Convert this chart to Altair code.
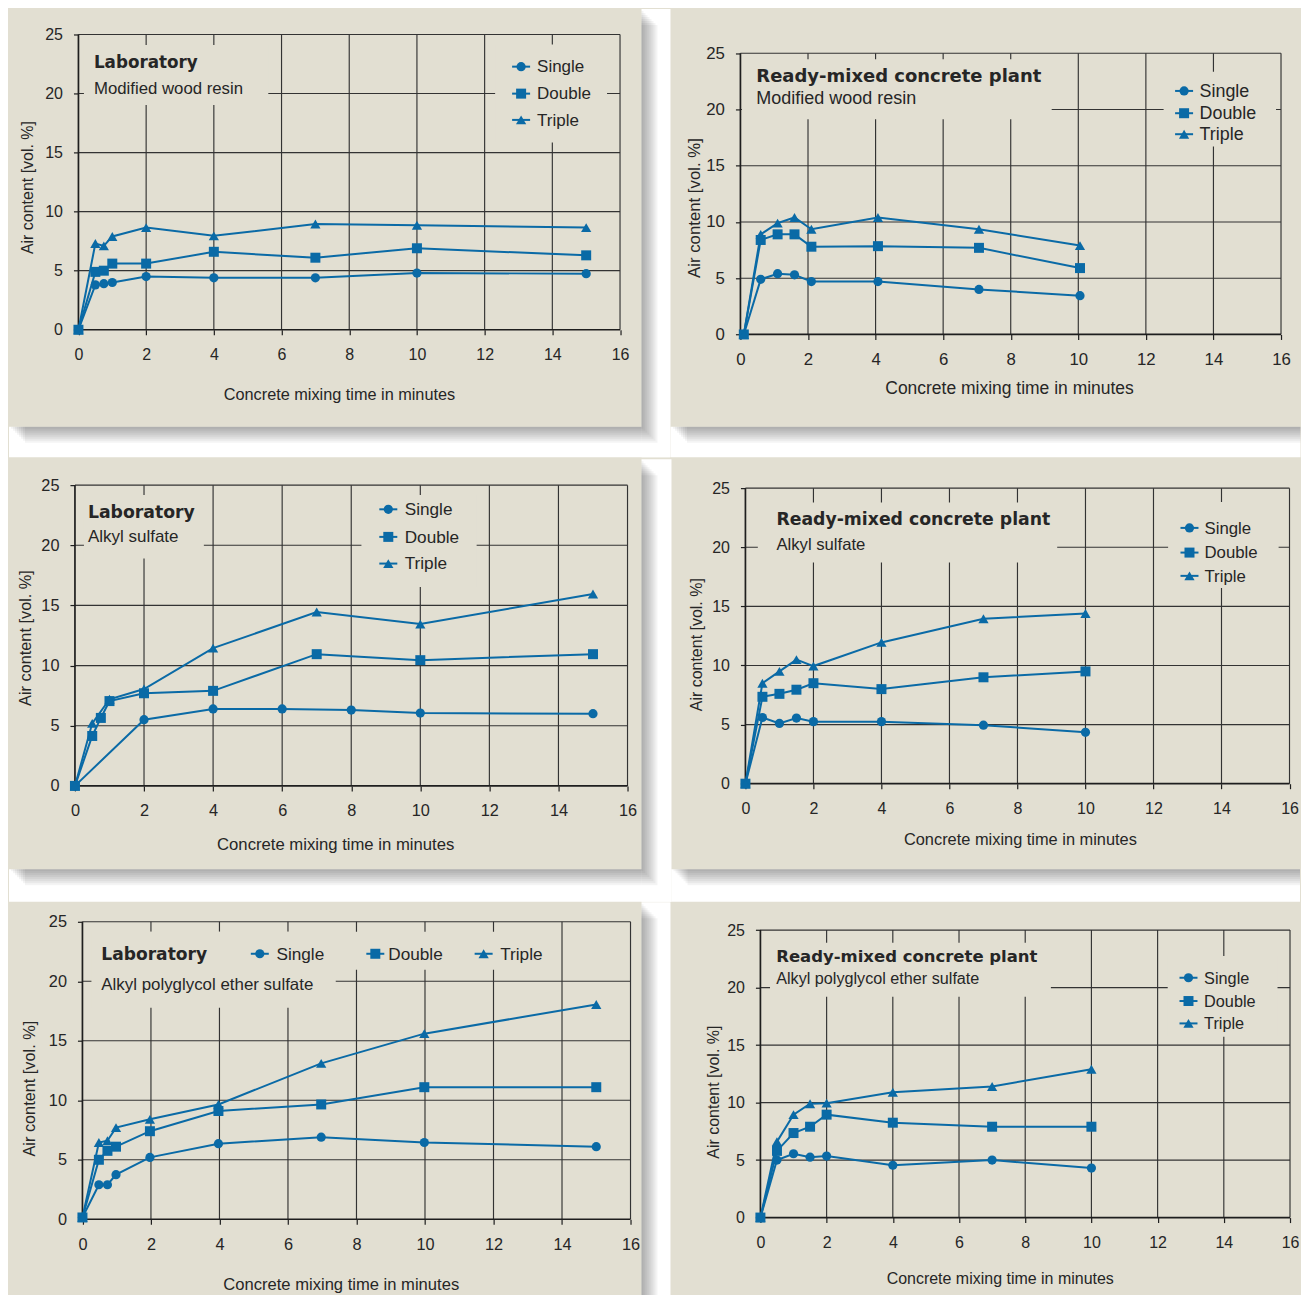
import altair as alt
import pandas as pd

# ---------------- data ----------------
SERIES = ["Single", "Double", "Triple"]
SHAPES = ["circle", "square", "triangle-up"]
SIZES = [85, 100, 105]

X_TICKS = [0, 2, 4, 6, 8, 10, 12, 14, 16]
Y_TICKS = [0, 5, 10, 15, 20, 25]
X_TITLE = "Concrete mixing time in minutes"
Y_TITLE = "Air content [vol. %]"

# Panel 1: Laboratory / Modified wood resin
p1_title = "Laboratory"
p1_subtitle = "Modified wood resin"
p1_t = [0, 0.5, 0.75, 1, 2, 4, 7, 10, 15]
p1_single = [0, 3.8, 3.9, 4.0, 4.5, 4.4, 4.4, 4.8, 4.75]
p1_double = [0, 4.9, 5.0, 5.6, 5.6, 6.6, 6.1, 6.9, 6.3]
p1_triple = [0, 7.3, 7.1, 7.9, 8.65, 7.95, 8.95, 8.85, 8.65]

# Panel 2: Ready-mixed concrete plant / Modified wood resin
p2_title = "Ready-mixed concrete plant"
p2_subtitle = "Modified wood resin"
p2_t = [0.1, 0.6, 1.1, 1.6, 2.1, 4.07, 7.06, 10.05]
p2_single = [0, 4.9, 5.4, 5.3, 4.7, 4.7, 4.0, 3.45]
p2_double = [0, 8.4, 8.9, 8.9, 7.8, 7.85, 7.7, 5.9]
p2_triple = [0, 8.9, 9.9, 10.4, 9.35, 10.4, 9.35, 7.9]

# Panel 3: Laboratory / Alkyl sulfate
p3_title = "Laboratory"
p3_subtitle = "Alkyl sulfate"
p3_single_t = [0, 2, 4, 6, 8, 10, 15]
p3_single = [0, 5.5, 6.4, 6.4, 6.3, 6.05, 6.0]
p3_double_t = [0, 0.5, 0.75, 1, 2, 4, 7, 10, 15]
p3_double = [0, 4.15, 5.65, 7.05, 7.7, 7.9, 10.95, 10.45, 10.95]
p3_triple_t = [0, 0.5, 1, 2, 4, 7, 10, 15]
p3_triple = [0, 5.2, 7.2, 8.05, 11.45, 14.45, 13.45, 15.95]

# Panel 4: Ready-mixed concrete plant / Alkyl sulfate
p4_title = "Ready-mixed concrete plant"
p4_subtitle = "Alkyl sulfate"
p4_t = [0, 0.5, 1, 1.5, 2, 4, 7, 10]
p4_single = [0, 5.6, 5.1, 5.55, 5.25, 5.25, 4.95, 4.35]
p4_double = [0, 7.35, 7.6, 7.95, 8.5, 8.0, 9.0, 9.5]
p4_triple = [0, 8.5, 9.5, 10.5, 9.95, 11.95, 13.95, 14.4]

# Panel 5: Laboratory / Alkyl polyglycol ether sulfate
p5_title = "Laboratory"
p5_subtitle = "Alkyl polyglycol ether sulfate"
p5_t = [0, 0.48, 0.73, 0.98, 1.97, 3.97, 6.97, 9.98, 15]
p5_single = [0.15, 2.9, 2.9, 3.75, 5.2, 6.35, 6.9, 6.45, 6.1]
p5_double = [0.15, 5.0, 5.75, 6.1, 7.4, 9.1, 9.65, 11.1, 11.1]
p5_triple = [0.15, 6.45, 6.6, 7.7, 8.4, 9.65, 13.1, 15.6, 18.05]

# Panel 6: Ready-mixed concrete plant / Alkyl polyglycol ether sulfate
p6_title = "Ready-mixed concrete plant"
p6_subtitle = "Alkyl polyglycol ether sulfate"
p6_t = [0, 0.5, 1, 1.5, 2, 4, 7, 10]
p6_single = [0, 5.0, 5.55, 5.25, 5.35, 4.55, 5.0, 4.3]
p6_double = [0, 5.8, 7.35, 7.9, 8.95, 8.25, 7.9, 7.9]
p6_triple = [0, 6.6, 8.95, 9.9, 9.95, 10.9, 11.4, 12.9]

# ---------------- style ----------------
BLUE = "#0a6aa6"
BEIGE = "#e2dfd2"
INK = "#262626"
GRID = "#333333"
AXIS = "#1e1e1e"
SANS = "Liberation Sans"
BOLD = "DejaVu Sans"
SHADOW = 16
RIGHT_EDGE = 1300  # keep the page from being scaled down to fit

# layout, all in page pixels: origin = plot-area corner shared by a row/column,
# data = box of the 0..16 x 0..25 region, frame = beige card, gap = white gutter edge
PANELS = [
    dict(title=p1_title, sub=p1_subtitle,
         series=[(SERIES[0], p1_t, p1_single), (SERIES[1], p1_t, p1_double), (SERIES[2], p1_t, p1_triple)],
         origin=(74, 33.5), data=(77.5, 33.5, 619.5, 329), frame=(8, 8, 641, 426), gap=(670, 456.5), s=1.0,
         ytitle=(26.8, 186.2), xtitle=(338.2, 394.3), xts=16.3,
         tpos=(93, 61.8), tsize=16.8, spos=(93, 88), ssize=16.8,
         leg=dict(mx=[520.5] * 3, my=[65.7, 92.7, 119], tx=[536.5] * 3, ty=[66.5, 93.5, 120.5]), lsize=17,
         covers=[(83, 267.5, 44, 104), (494.5, 606.5, 43.5, 141.5)]),
    dict(title=p2_title, sub=p2_subtitle,
         series=[(SERIES[0], p2_t, p2_single), (SERIES[1], p2_t, p2_double), (SERIES[2], p2_t, p2_triple)],
         origin=(739.5, 33.5), data=(739.5, 52.3, 1280.5, 333.7), frame=(670, 8, RIGHT_EDGE, 426),
         gap=(RIGHT_EDGE, 456.5), s=1.05,
         ytitle=(693.6, 206.7), xtitle=(1008.3, 388), xts=17.5,
         tpos=(755.4, 76), tsize=18, spos=(755.4, 98.3), ssize=18,
         leg=dict(mx=[1183.5] * 3, my=[90, 112.3, 133.3], tx=[1199] * 3, ty=[90.8, 113.3, 134.3]), lsize=17.9,
         covers=[(741, 1051, 58.3, 118.3), (1163, 1275.5, 70.7, 145.7)]),
    dict(title=p3_title, sub=p3_subtitle,
         series=[(SERIES[0], p3_single_t, p3_single), (SERIES[1], p3_double_t, p3_double),
                 (SERIES[2], p3_triple_t, p3_triple)],
         origin=(74, 482.5), data=(74, 482.5, 627, 783.5), frame=(8, 456.5, 641, 867), gap=(671, 899.5), s=1.02,
         ytitle=(25, 635), xtitle=(334.4, 841.8), xts=16.7,
         tpos=(87, 510.5), tsize=17.3, spos=(87, 534.5), ssize=17,
         leg=dict(mx=[387.6] * 3, my=[506.7, 534.3, 561], tx=[404] * 3, ty=[507.5, 535.1, 561.8]), lsize=17.2,
         covers=[(83, 203, 492.5, 556), (360.7, 476, 492.5, 584.5)]),
    dict(title=p4_title, sub=p4_subtitle,
         series=[(SERIES[0], p4_t, p4_single), (SERIES[1], p4_t, p4_double), (SERIES[2], p4_t, p4_triple)],
         origin=(745, 482.5), data=(745, 485.5, 1289.5, 781.3), frame=(671, 456.5, RIGHT_EDGE, 867),
         gap=(RIGHT_EDGE, 899.5), s=1.0,
         ytitle=(696.3, 641.7), xtitle=(1019.7, 836.8), xts=16.4,
         tpos=(776, 517.7), tsize=17.3, spos=(776, 542.2), ssize=16.7,
         leg=dict(mx=[1189.4] * 3, my=[525.3, 550, 573.3], tx=[1204.4] * 3, ty=[526.1, 550.8, 574.1]), lsize=16.8,
         covers=[(757.4, 1057, 500, 560), (1168, 1278.6, 499.5, 585.5)]),
    dict(title=p5_title, sub=p5_subtitle,
         series=[(SERIES[0], p5_t, p5_single), (SERIES[1], p5_t, p5_double), (SERIES[2], p5_t, p5_triple)],
         origin=(74, 919), data=(81.5, 919, 630, 1216.7), frame=(8, 899.5, 641, 1295), gap=(670, 1295), s=1.02,
         ytitle=(28.6, 1085.5), xtitle=(340, 1281.8), xts=16.6,
         tpos=(100.4, 952.3), tsize=17.1, spos=(100.4, 981.8), ssize=16.9,
         leg=dict(mx=[259, 374.6, 483], my=[951] * 3, tx=[275.7, 387.6, 499.6], ty=[952] * 3), lsize=17.2,
         covers=[(90.5, 543.5, 929, 967), (90.5, 335, 929, 1005)]),
    dict(title=p6_title, sub=p6_subtitle,
         series=[(SERIES[0], p6_t, p6_single), (SERIES[1], p6_t, p6_double), (SERIES[2], p6_t, p6_triple)],
         origin=(759, 919), data=(759, 927.3, 1289, 1215), frame=(670, 899.5, RIGHT_EDGE, 1295),
         gap=(RIGHT_EDGE, 1295), s=1.0,
         ytitle=(712.4, 1089), xtitle=(998.5, 1276), xts=16.0,
         tpos=(774.8, 954), tsize=16.5, spos=(774.8, 976.3), ssize=16.2,
         leg=dict(mx=[1187.4] * 3, my=[975, 998.3, 1020.7], tx=[1203] * 3, ty=[975.8, 999.1, 1021.5]), lsize=16.3,
         covers=[(768.6, 1049.7, 940, 994), (1166.6, 1276.5, 953.3, 1034)]),
]


def build_panel(P):
    ox, oy = P["origin"]
    dx0, dy0, dx1, dy1 = P["data"]
    fx0, fy0, fx1, fy1 = P["frame"]
    gR, gB = P["gap"]
    s = P["s"]
    w, h = dx1 - ox, dy1 - oy
    xppu = (dx1 - dx0) / 16.0
    yppu = (dy1 - dy0) / 25.0
    xlo = -(dx0 - ox) / xppu
    yhi = 25.0 + (dy0 - oy) / yppu
    xs = alt.Scale(domain=[xlo, 16], nice=False, zero=False)
    ys = alt.Scale(domain=[0, yhi], nice=False, zero=False)

    def fx(px):
        return (px - dx0) / xppu

    def fy(py):
        return (dy1 - py) / yppu

    xaxis = alt.Axis(values=X_TICKS, grid=False, domain=False,
                     ticks=True, tickSize=5, tickColor=AXIS, tickWidth=1.2,
                     labelFont=SANS, labelFontSize=16 * s, labelColor=INK, labelPadding=12,
                     labelFlush=False, labelOverlap=False,
                     titleFont=SANS, titleFontSize=P["xts"], titleFontWeight="normal", titleColor=INK,
                     titleX=P["xtitle"][0] - ox, titleY=P["xtitle"][1] - dy1,
                     titleAlign="center", titleBaseline="middle")
    yaxis = alt.Axis(values=Y_TICKS, grid=False, domain=False, offset=-(dx0 - ox),
                     ticks=True, tickSize=5, tickColor=AXIS, tickWidth=1.2,
                     labelFont=SANS, labelFontSize=16 * s, labelColor=INK, labelPadding=11,
                     labelFlush=False, labelOverlap=False,
                     titleFont=SANS, titleFontSize=16 * s, titleFontWeight="normal", titleColor=INK,
                     titleX=P["ytitle"][0] - dx0, titleY=P["ytitle"][1] - oy,
                     titleAlign="center", titleBaseline="middle")

    def X(field):
        return alt.X(field, type="quantitative", scale=xs, axis=xaxis, title=X_TITLE)

    def Y(field):
        return alt.Y(field, type="quantitative", scale=ys, axis=yaxis, title=Y_TITLE)

    def boxes(rows, color, opacity):
        df = pd.DataFrame({
            "x1": [fx(r[0]) for r in rows], "x2": [fx(r[1]) for r in rows],
            "y1": [fy(r[2]) for r in rows], "y2": [fy(r[3]) for r in rows],
        })
        return alt.Chart(df).mark_rect(color=color, opacity=opacity).encode(
            x=X("x1"), x2="x2", y=Y("y1"), y2="y2")

    layers = [boxes([(fx0, fx1, fy0, fy1)], BEIGE, 0.0)]
    gaps = []
    if gR > fx1:
        gaps.append((fx1, gR, fy0, gB))
    if gB > fy1:
        gaps.append((fx0, gR, fy1, gB))
    if gaps:
        layers.append(boxes(gaps, "white", 1.0))
    strips = []
    for k in range(2, SHADOW + 1, 2):
        if gR > fx1:
            strips.append((fx1, min(fx1 + k, gR), fy0 + k, min(fy1 + k, gB) if gB > fy1 else fy1))
        if gB > fy1:
            strips.append((fx0 + k, fx1, fy1, min(fy1 + k, gB)))
    if strips:
        layers.append(boxes(strips, "black", 0.045))

    gdx = pd.DataFrame({"g": X_TICKS[1:], "a": [0] * 8, "b": [25] * 8})
    gx = alt.Chart(gdx).mark_rule(color=GRID, strokeWidth=1.15).encode(x=X("g"), y=Y("a"), y2="b")
    gdy = pd.DataFrame({"g": Y_TICKS[1:], "a": [0] * 5, "b": [16] * 5})
    gy = alt.Chart(gdy).mark_rule(color=GRID, strokeWidth=1.15).encode(y=Y("g"), x=X("a"), x2="b")
    covers = boxes(P["covers"], BEIGE, 1.0)
    dom_y = alt.Chart(pd.DataFrame({"a": [0], "b": [0], "c": [25]})).mark_rule(
        color=AXIS, strokeWidth=1.7).encode(x=X("a"), y=Y("b"), y2="c")
    dom_x = alt.Chart(pd.DataFrame({"a": [0], "b": [0], "c": [16]})).mark_rule(
        color=AXIS, strokeWidth=1.7).encode(y=Y("a"), x=X("b"), x2="c")

    rows = []
    for name, ts, vs in P["series"]:
        for t, v in zip(ts, vs):
            rows.append({"series": name, "t": t, "v": v})
    sdf = pd.DataFrame(rows)

    lines = alt.Chart(sdf).mark_line(color=BLUE, strokeWidth=2).encode(
        x=X("t"), y=Y("v"), detail="series:N")
    points = []
    for name, shape, size in zip(SERIES, SHAPES, SIZES):
        points.append(
            alt.Chart(sdf).transform_filter(alt.datum.series == name)
            .mark_point(shape=shape, size=size, filled=True, opacity=1, color=BLUE, strokeWidth=0)
            .encode(x=X("t"), y=Y("v")))

    lg = P["leg"]
    ldf = pd.DataFrame({
        "series": SERIES,
        "mx": [fx(v) for v in lg["mx"]],
        "lx1": [fx(v - 9) for v in lg["mx"]],
        "lx2": [fx(v + 9) for v in lg["mx"]],
        "my": [fy(v) for v in lg["my"]],
        "tx": [fx(v) for v in lg["tx"]],
        "ty": [fy(v) for v in lg["ty"]],
    })
    leg_lines = alt.Chart(ldf).mark_rule(color=BLUE, strokeWidth=2).encode(
        x=X("lx1"), x2="lx2", y=Y("my"))
    leg_points = []
    for name, shape, size in zip(SERIES, SHAPES, SIZES):
        leg_points.append(
            alt.Chart(ldf).transform_filter(alt.datum.series == name)
            .mark_point(shape=shape, size=size, filled=True, opacity=1, color=BLUE, strokeWidth=0)
            .encode(x=X("mx"), y=Y("my")))
    leg_text = alt.Chart(ldf).mark_text(align="left", baseline="middle", font=SANS,
                                        fontSize=P["lsize"], color=INK).encode(
        x=X("tx"), y=Y("ty"), text="series:N")

    tdf = pd.DataFrame({"txt": [P["title"]], "x": [fx(P["tpos"][0])], "y": [fy(P["tpos"][1])]})
    title = alt.Chart(tdf).mark_text(align="left", baseline="middle", font=BOLD, fontWeight="bold",
                                     fontSize=P["tsize"], color=INK).encode(
        x=X("x"), y=Y("y"), text="txt:N")
    sdf2 = pd.DataFrame({"txt": [P["sub"]], "x": [fx(P["spos"][0])], "y": [fy(P["spos"][1])]})
    subtitle = alt.Chart(sdf2).mark_text(align="left", baseline="middle", font=SANS,
                                         fontSize=P["ssize"], color=INK).encode(
        x=X("x"), y=Y("y"), text="txt:N")

    layers += [gx, gy, covers, dom_y, dom_x, lines, *points,
               leg_lines, *leg_points, leg_text, title, subtitle]
    return alt.layer(*layers).properties(width=w, height=h)


panels = [build_panel(P) for P in PANELS]
row1 = alt.hconcat(panels[0], panels[1], spacing=0)
row2 = alt.hconcat(panels[2], panels[3], spacing=0)
row3 = alt.hconcat(panels[4], panels[5], spacing=0)

chart = alt.vconcat(row1, row2, row3, spacing=0).properties(
    padding=0, background=BEIGE
).configure_view(stroke=None)

chart.save("out.html", embed_options={"renderer": "svg", "actions": False})
